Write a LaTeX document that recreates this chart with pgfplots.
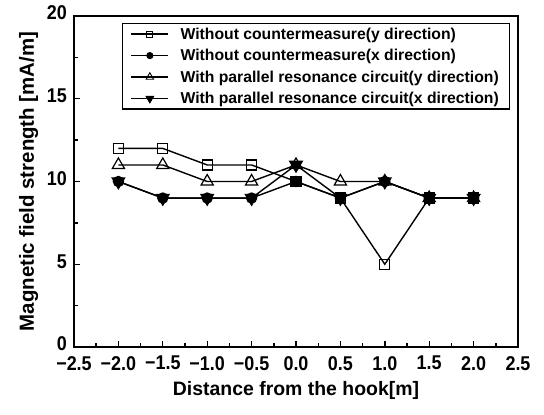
\documentclass[border=0pt]{standalone}
\usepackage{pgfplots}
\pgfplotsset{compat=1.18}
\usepackage{fontspec}
\setmainfont{Liberation Sans}
\newfontfamily\tickfont{Liberation Sans}[FakeStretch=0.9]

\begin{document}
\begin{tikzpicture}
\begin{axis}[
  name=main,
  at={(0,0)}, anchor=south west,
  scale only axis,
  width=444bp, height=331bp,
  xmin=-2.5, xmax=2.5, ymin=0, ymax=20,
  axis line style={line width=2.2bp},
  xtick={-2.5,-2,-1.5,-1,-0.5,0,0.5,1,1.5,2,2.5},
  xticklabels={−2.5,−2.0,−1.5,−1.0,−0.5,0.0,0.5,1.0,1.5,2.0,2.5},
  ytick={0,5,10,15,20},
  yticklabels={0,5,10,15,20},
  minor x tick num=1,
  minor y tick num=1,
  tick pos=left,
  tick align=inside,
  major tick length=6bp,
  minor tick length=4bp,
  tick style={line width=1.4bp, black},
  x tick label style={font=\tickfont\bfseries\fontsize{20}{20}\selectfont, anchor=north, inner sep=0pt, yshift=-9bp},
  y tick label style={font=\tickfont\bfseries\fontsize{20}{20}\selectfont, anchor=east, inner sep=0pt, xshift=-7bp, yshift=3bp},
  xlabel={Distance from the hook[m]},
  ylabel={Magnetic field strength [mA/m]},
  xlabel style={font=\bfseries\fontsize{19.5}{20}\selectfont, at={([yshift=-48bp]axis description cs:0.5,0)}, anchor=base, inner sep=0pt},
  ylabel style={font=\bfseries\fontsize{20.5}{21}\selectfont, at={([xshift=-40bp]axis description cs:0,0.5)}, anchor=base, inner sep=0pt},
  every axis plot/.append style={line width=1.4bp, black},
  legend image code/.code={%
    \draw[mark repeat=2, mark phase=2, #1,
          every mark/.append style={scale=0.62, line width=0.9bp}]
      plot coordinates {(0bp,0bp) (18.5bp,0bp) (37bp,0bp)};},
  legend cell align=left,
  legend style={
    at={(0.982,0.979)}, anchor=north east,
    draw=black, line width=1.4bp,
    font=\bfseries\fontsize{15.8}{16}\selectfont,
    inner xsep=8bp, inner ysep=1.5bp,
    row sep=3.6bp, column sep=9bp,
    nodes={inner sep=2.5bp},
  },
]
% Without countermeasure, y direction
\addplot[mark=square, mark size=5bp, mark options={fill=white, line width=1.2bp}]
  coordinates {(-2,12) (-1.5,12) (-1,11) (-0.5,11) (0,10) (0.5,9) (1,5) (1.5,9) (2,9)};
\addlegendentry{Without countermeasure(y direction)}
% Without countermeasure, x direction
\addplot[mark=*, mark size=5bp, mark options={fill=black}]
  coordinates {(-2,10) (-1.5,9) (-1,9) (-0.5,9) (0,10) (0.5,9) (1,10) (1.5,9) (2,9)};
\addlegendentry{Without countermeasure(x direction)}
% With parallel resonance circuit, y direction
\addplot[mark=triangle, mark size=7bp, mark options={fill=white, line width=1.2bp}]
  coordinates {(-2,11) (-1.5,11) (-1,10) (-0.5,10) (0,11) (0.5,10) (1,10) (1.5,9) (2,9)};
\addlegendentry{With parallel resonance circuit(y direction)}
% With parallel resonance circuit, x direction
\addplot[mark=triangle*, mark size=7bp, mark options={fill=black, rotate=180}]
  coordinates {(-2,10) (-1.5,9) (-1,9) (-0.5,9) (0,11) (0.5,9) (1,10) (1.5,9) (2,9)};
\addlegendentry{With parallel resonance circuit(x direction)}
\end{axis}
\pgfresetboundingbox
\useasboundingbox (-74bp,-68bp) rectangle (470bp,347bp);
\end{tikzpicture}
\end{document}
